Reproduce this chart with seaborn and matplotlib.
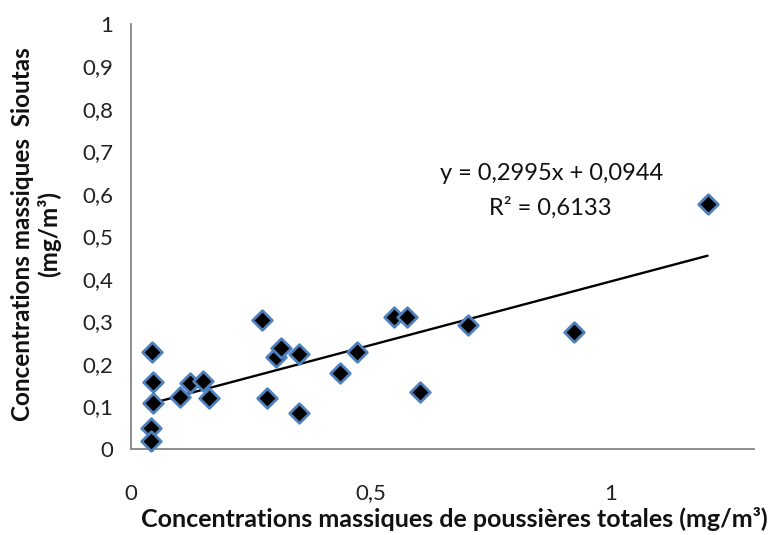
import numpy as np
import pandas as pd
import matplotlib
matplotlib.use("Agg")
import matplotlib.pyplot as plt
import seaborn as sns
from matplotlib.ticker import FixedLocator, FuncFormatter

# Total dust mass concentration vs Sioutas mass concentration (mg/m3)
x_total = [0.044, 0.045, 0.045, 0.042, 0.042, 0.102, 0.123, 0.151, 0.163,
           0.273, 0.283, 0.303, 0.313, 0.351, 0.351, 0.436, 0.472,
           0.549, 0.575, 0.602, 0.703, 0.925, 1.203]
y_sioutas = [0.227, 0.158, 0.107, 0.050, 0.019, 0.123, 0.155, 0.160, 0.119,
             0.303, 0.119, 0.216, 0.237, 0.223, 0.084, 0.178, 0.229,
             0.310, 0.310, 0.135, 0.291, 0.276, 0.576]

# Linear trend coefficients
slope = 0.2995
intercept = 0.0944
r2 = 0.6133

y_ticks = [0, 0.1, 0.2, 0.3, 0.4, 0.5, 0.6, 0.7, 0.8, 0.9, 1.0]
x_ticks = [0, 0.5, 1.0]

df = pd.DataFrame({"total": x_total, "sioutas": y_sioutas})

sns.set_theme(style="white")
plt.rcParams["font.family"] = ["Lato", "DejaVu Sans"]

fig = plt.figure(figsize=(7.71, 5.35), dpi=100)
ax = fig.add_axes([0.170, 0.161, 0.808, 0.794])

def fr(v, pos=None):
    s = f"{v:.1f}".rstrip("0").rstrip(".")
    return s.replace(".", ",")

# trend line over the data range
xs = np.array([min(x_total), max(x_total)])
ax.plot(xs, slope * xs + intercept, color="black", lw=1.7, zorder=2)

sns.scatterplot(data=df, x="total", y="sioutas", ax=ax, marker="D", s=100,
                color="black", edgecolor="#4F81BD", linewidth=2.0, zorder=3,
                clip_on=False)

ax.set_xlim(0, 1.3)
ax.set_ylim(0, 1.0)
ax.xaxis.set_major_locator(FixedLocator(x_ticks))
ax.yaxis.set_major_locator(FixedLocator(y_ticks))
ax.xaxis.set_major_formatter(FuncFormatter(fr))
ax.yaxis.set_major_formatter(FuncFormatter(fr))

for side in ["top", "right"]:
    ax.spines[side].set_visible(False)
for side in ["left", "bottom"]:
    ax.spines[side].set_color("#868686")
    ax.spines[side].set_linewidth(1.3)

ax.tick_params(axis="both", which="major", direction="out", length=5,
               width=1.2, color="#868686", labelsize=16, labelcolor="#222222")
ax.tick_params(axis="x", pad=20)
ax.tick_params(axis="y", pad=8)

ax.set_xlabel("Concentrations massiques de poussières totales (mg/m³)",
              fontsize=18, fontweight="bold", color="#111111")
ax.xaxis.label.set_va("center")
ax.xaxis.set_label_coords((454 - 131) / 623, (449 - 519) / 425)

ax.set_ylabel("Concentrations massiques  Sioutas\n(mg/m³)",
              fontsize=17.5, fontweight="bold", color="#111111",
              linespacing=1.15)
ax.yaxis.label.set_va("center")
ax.yaxis.set_label_coords((36 - 131) / 623, 0.505)

eq = f"y = {slope:.4f}x + {intercept:.4f}".replace(".", ",")
r2_txt = f"R² = {r2:.4f}".replace(".", ",")
ax.text(0.877, 0.649, eq, ha="center", va="center", fontsize=17,
        color="#111111")
ax.text(0.875, 0.567, r2_txt, ha="center", va="center", fontsize=17,
        color="#111111")

fig.savefig("out.png", dpi=100)
